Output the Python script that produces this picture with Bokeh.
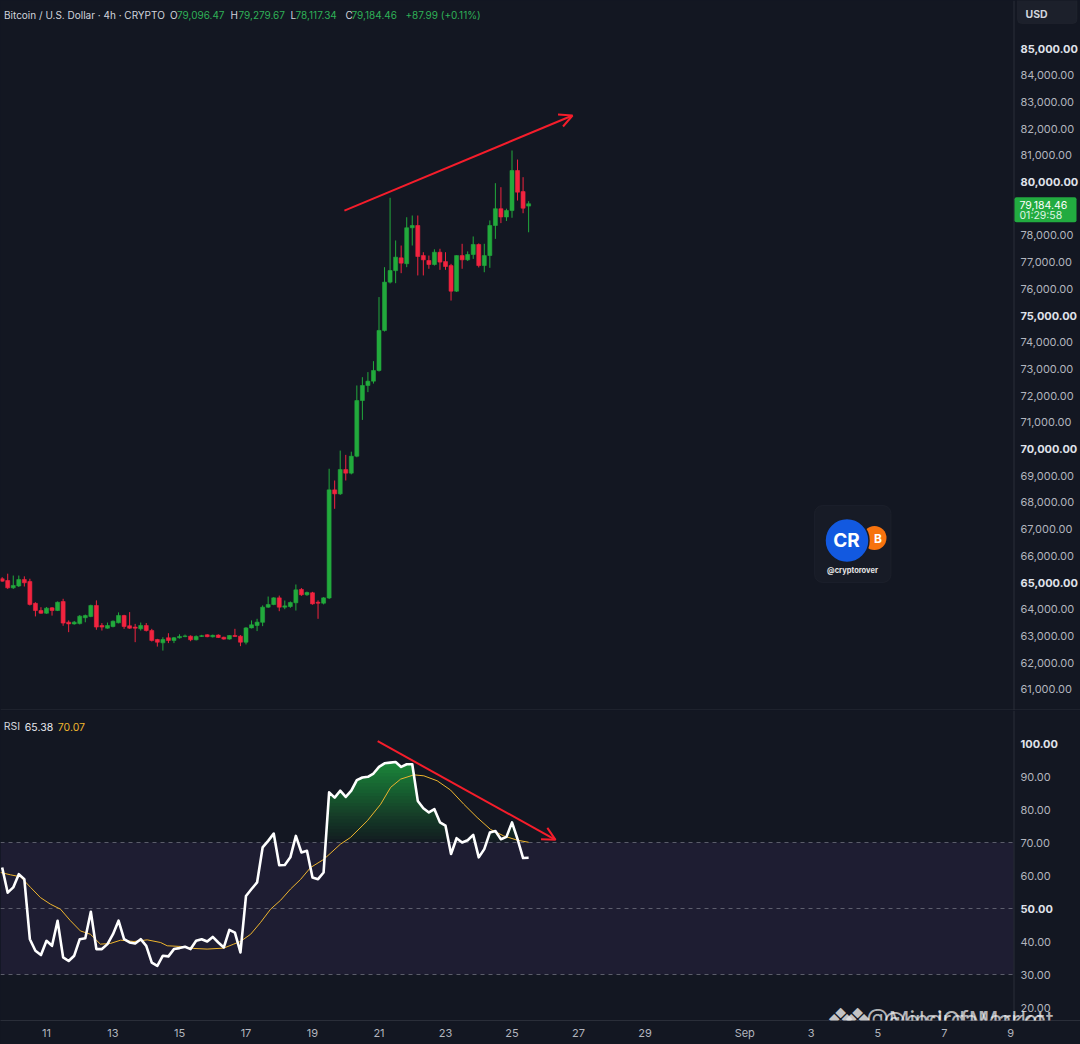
import numpy as np
from bokeh.plotting import figure
from bokeh.layouts import column
from bokeh.models import (ColumnDataSource, Range1d, Span, Label, Arrow, OpenHead,
                          BoxAnnotation, FixedTicker)
from bokeh.core.properties import value
from bokeh.embed import file_html
from bokeh.resources import INLINE

# ---------------- data ----------------
opens = [65140, 65075, 64800, 64870, 65110, 65040, 64220, 63950, 63850, 64050,
         63950, 64290, 63515, 63450, 63460, 63680, 63730, 64140, 63390, 63290,
         63350, 63490, 63765, 63380, 63330, 63265, 63390, 63200, 62865, 62740,
         62930, 62830, 62930, 62975, 62990, 62855, 62980, 63040, 62965, 63030,
         62950, 62880, 63015, 62990, 62765, 63300, 63390, 63510, 64075, 64175,
         64425, 64075, 64100, 64240, 64740, 64540, 64615, 64260, 64225, 64420,
         68470, 68320, 69230, 69095, 69730, 71815, 72380, 72540, 72940, 74440,
         76250, 76680, 77160, 76940, 78285, 78370, 77245, 77060, 76910, 77370,
         77020, 76870, 75910, 77245, 77085, 77285, 77660, 76870, 77245, 78370,
         79000, 78690, 78930, 80430, 79640, 79096.47]
highs = [65200, 65330, 65260, 65260, 65230, 65140, 64260, 64075, 64080, 64080,
         64290, 64390, 63580, 63560, 63780, 63800, 64170, 64330, 63480, 63500,
         63580, 63880, 63790, 63890, 63450, 63500, 63480, 63265, 62890, 62950,
         63100, 62960, 63060, 63050, 63020, 63020, 63040, 63060, 63050, 63060,
         62970, 63030, 63265, 63030, 63330, 63580, 63640, 64140, 64475, 64450,
         64510, 64325, 64290, 64925, 64790, 64660, 64650, 64330, 64450, 69260,
         68820, 69940, 69780, 69900, 72380, 72690, 72880, 73290, 75690, 76810,
         79410, 77810, 77620, 78680, 78745, 78745, 77370, 77245, 77480, 77500,
         77370, 76935, 77250, 77685, 77400, 77960, 77700, 77685, 78560, 79955,
         79805, 79000, 81180, 80840, 80180, 79279.67]
lows = [65030, 64760, 64760, 64830, 64850, 64140, 63730, 63830, 63830, 63760,
        63930, 63380, 63140, 63420, 63430, 63510, 63700, 63230, 63200, 63270,
        63320, 63470, 63265, 63265, 62765, 63200, 63165, 62790, 62600, 62450,
        62730, 62730, 62900, 62950, 62800, 62830, 62960, 62950, 62940, 62920,
        62860, 62860, 62960, 62615, 62680, 63280, 63180, 63365, 64050, 64150,
        63925, 64000, 64050, 63950, 64500, 64500, 64170, 63640, 64180, 64380,
        67760, 68280, 68820, 69050, 69690, 71090, 72130, 72450, 72900, 74400,
        76200, 76210, 76585, 76810, 77620, 76500, 76500, 76750, 76870, 76710,
        76710, 75560, 75880, 76750, 77040, 77120, 76800, 76620, 76785, 77870,
        78460, 78540, 78660, 79305, 78830, 78117.34]
closes = [65050, 64800, 64890, 65110, 64990, 64180, 63950, 63850, 64040, 63950,
          64260, 63480, 63450, 63515, 63740, 63760, 64140, 63330, 63330, 63390,
          63550, 63765, 63350, 63290, 63290, 63390, 63200, 62830, 62765, 62865,
          62830, 62930, 62980, 63000, 62855, 62980, 63010, 62970, 63020, 62940,
          62880, 63015, 62980, 62765, 63300, 63415, 63515, 64075, 64175, 64425,
          64075, 64125, 64250, 64725, 64540, 64625, 64200, 64225, 64425, 68470,
          68320, 69230, 69095, 69730, 71815, 72380, 72540, 72940, 74440, 76250,
          76685, 77185, 76960, 78285, 78370, 77210, 77085, 76910, 77370, 77000,
          76835, 75910, 77245, 77085, 77285, 77660, 76870, 77245, 78370, 79000,
          78690, 78930, 80430, 79620, 79020, 79184.46]
rsi = [62.4, 54.8, 56.4, 60.4, 58.9, 40.7, 37.2, 35.9, 40.2, 38.7,
       46.3, 35.2, 34.1, 35.7, 40.7, 41.0, 49.0, 37.7, 37.7, 39.2,
       42.2, 46.3, 40.7, 39.7, 39.4, 40.7, 38.7, 33.6, 32.6, 35.7,
       35.5, 37.7, 38.0, 38.4, 37.7, 40.2, 40.7, 40.0, 41.4, 39.7,
       38.2, 43.5, 42.7, 36.7, 53.8, 55.9, 57.9, 68.5, 70.5, 72.7,
       63.1, 63.2, 65.5, 72.0, 67.0, 67.5, 59.4, 58.9, 60.9, 85.2,
       83.6, 85.7, 83.8, 85.7, 88.9, 89.7, 89.9, 90.9, 92.9, 94.0,
       94.2, 94.4, 92.9, 93.7, 93.7, 82.6, 80.4, 79.1, 80.1, 76.1,
       75.1, 66.5, 71.3, 70.0, 70.7, 72.3, 65.5, 68.0, 73.0, 73.5,
       71.0, 71.7, 76.1, 71.0, 65.3, 65.38]
rsi_ma_day = [9.62, 9.92, 10.22, 10.52, 10.82, 11.12, 11.42, 11.72, 12.02, 12.32,
              12.62, 12.92, 13.23, 13.63, 14.03, 14.43, 14.63, 15.03, 15.43, 15.83,
              16.33, 16.63, 16.83, 17.14, 17.44, 17.74, 18.04, 18.34, 18.64, 18.94,
              19.34, 19.84, 20.14, 20.65, 21.05, 21.35, 21.65, 22.05, 22.35, 22.75,
              23.15, 23.55, 23.95, 24.35, 24.75, 25.16, 25.50]
rsi_ma = [60.9, 60.2, 59.6, 56.4, 53.3, 51.3, 49.8, 46.3, 43.2, 42.2,
          39.2, 39.4, 40.4, 40.0, 40.5, 39.7, 38.7, 38.5, 37.9, 37.7,
          38.0, 39.2, 40.0, 42.2, 45.8, 49.8, 52.5, 55.9, 58.8, 62.4,
          64.9, 69.5, 71.5, 76.6, 81.6, 86.7, 89.2, 90.5, 90.2, 88.7,
          85.9, 81.6, 77.6, 74.0, 72.0, 70.7, 70.07]
first_bar_day = 9 + 16 / 24          # 9 Aug, 16:00
bar_hours = 4
price_ticks = list(range(61000, 86000, 1000))
rsi_ticks = [20, 30, 40, 50, 60, 70, 80, 90, 100]
rsi_bold = [50, 100]
rsi_levels = [70, 50, 30]
date_ticks = [11, 13, 15, 17, 19, 21, 23, 25, 27, 29, 32, 34, 36, 38, 40]
date_labels = ["11", "13", "15", "17", "19", "21", "23", "25", "27", "29",
               "Sep", "3", "5", "7", "9"]
price_trend = dict(x0=19.96, y0=78930, x1=26.82, y1=82490)
rsi_trend = dict(x0=20.96, y0=100.7, x1=26.31, y1=70.8)
rsi_last, rsi_ma_last = 65.38, 70.07
change_text = "+87.99 (+0.11%)"
countdown = "01:29:58"

# ---------------- styles ----------------
BG = "#131722"
UP = "#22aa3c"
DOWN = "#f2243f"
ARROW = "#f51d2b"
GRID = "#2a2e39"
TXT = "#d1d4dc"
TXT2 = "#b2b5be"
GREEN_TXT = "#2fb157"
YEL = "#eeb52e"
FONT = "Inter"
W, H = 1080, 1044
PRICE_H, RSI_H = 710, 310

# pixel helpers (page px -> data) for placing decorations
def xd(px):
    return 11 + (px - 46) / 33.25

def yp(py):
    return 65000 + (582 - py) * 1000 / 26.7

def py_of(price):
    return 582 - (price - 65000) * 26.7 / 1000

def yr(py):
    return 100 - (py - 743) / 3.3

n = len(closes)
t = first_bar_day + np.arange(n) * bar_hours / 24
o = np.array(opens); h = np.array(highs); l = np.array(lows); c = np.array(closes)
up = c >= o

x_range = Range1d(xd(0), xd(W))

# ================= price panel =================
p = figure(frame_width=W, frame_height=PRICE_H, x_range=x_range,
           y_range=Range1d(yp(PRICE_H), yp(0)), output_backend="svg",
           toolbar_location=None, x_axis_location=None, y_axis_location=None,
           background_fill_color=BG, border_fill_color=BG,
           outline_line_color=None, min_border=0)
p.xgrid.grid_line_color = None
p.ygrid.grid_line_color = None

p.add_layout(Span(location=xd(1013.5), dimension="height", line_color=GRID, line_width=1))
p.add_layout(Span(location=yp(709.5), dimension="width", line_color=GRID, line_width=1))

body_w = 0.12
for mask, col in ((up, UP), (~up, DOWN)):
    src = ColumnDataSource(dict(t=t[mask], o=o[mask], h=h[mask], l=l[mask], c=c[mask]))
    p.segment(x0="t", y0="l", x1="t", y1="h", source=src, line_color=col, line_width=1)
    p.vbar(x="t", width=body_w, top="c", bottom="o", source=src,
           fill_color=col, line_color=col, line_width=0.6)

# right price scale
pt_src = ColumnDataSource(dict(
    y=price_ticks,
    text=[f"{v:,.2f}" for v in price_ticks],
    style=["bold" if v % 5000 == 0 else "normal" for v in price_ticks],
    color=["#e0e3eb" if v % 5000 == 0 else TXT2 for v in price_ticks],
    x=[xd(1020)] * len(price_ticks)))
p.text(x="x", y="y", text="text", source=pt_src, text_font=value(FONT),
       text_font_size="11px", text_font_style="style", text_color="color",
       text_align="left", text_baseline="middle")

# USD box
p.add_layout(BoxAnnotation(left=xd(1017), right=xd(1076.5), top=yp(-5), bottom=yp(23),
                           fill_color="#1c202b", fill_alpha=1, line_color="#2a2e39",
                           line_width=1, border_radius=4))
p.add_layout(Label(x=xd(1025), y=yp(13.5), text="USD", text_color=TXT,
                   text_font=FONT, text_font_size="10.5px", text_font_style="bold",
                   text_align="left", text_baseline="middle"))

# last price tag
cp = py_of(closes[-1])
p.add_layout(BoxAnnotation(left=xd(1014), right=xd(1076), top=yp(cp - 6.6), bottom=yp(cp + 18.4),
                           fill_color="#22ab40", fill_alpha=1, line_color=None, border_radius=2))
p.add_layout(Label(x=xd(1019), y=yp(cp + 0.8), text=f"{closes[-1]:,.2f}", text_color="#ffffff",
                   text_font=FONT, text_font_size="10.5px", text_align="left", text_baseline="middle"))
p.add_layout(Label(x=xd(1019), y=yp(cp + 11.8), text=countdown, text_color="#dff5e4",
                   text_font=FONT, text_font_size="10.5px", text_align="left", text_baseline="middle"))

# trend arrow
p.add_layout(Arrow(end=OpenHead(size=13, line_color=ARROW, line_width=2),
                   x_start=price_trend["x0"], y_start=price_trend["y0"],
                   x_end=price_trend["x1"], y_end=price_trend["y1"],
                   line_color=ARROW, line_width=2))

# header
hy = yp(14)
head = [(3.5, "Bitcoin / U.S. Dollar \u00b7 4h \u00b7 CRYPTO", TXT),
        (169.5, "O", TXT), (176.5, f"{opens[-1]:,.2f}", GREEN_TXT),
        (230, "H", TXT), (238, f"{highs[-1]:,.2f}", GREEN_TXT),
        (290, "L", TXT), (295, f"{lows[-1]:,.2f}", GREEN_TXT),
        (345, "C", TXT), (351, f"{closes[-1]:,.2f}", GREEN_TXT),
        (405, change_text, GREEN_TXT)]
for px, txt, col in head:
    p.add_layout(Label(x=xd(px), y=hy, text=txt, text_color=col, text_font=FONT,
                       text_font_size="10px", text_align="left", text_baseline="middle"))

# logo badge
p.add_layout(BoxAnnotation(left=xd(814), right=xd(890.5), top=yp(505), bottom=yp(582),
                           fill_color="#171b26", fill_alpha=1, line_color="#2a2e39",
                           line_width=1, border_radius=8, level="underlay"))
p.scatter(x=[xd(874)], y=[yp(537.5)], size=24, marker="circle",
          fill_color="#f7730e", line_color=None)
p.scatter(x=[xd(846.5)], y=[yp(540)], size=44, marker="circle",
          fill_color="#1259e0", line_color="#171b26", line_width=1.5)
p.add_layout(Label(x=xd(846), y=yp(540), text="CR", text_color="#ffffff", text_font=FONT,
                   text_font_size="19px", text_font_style="bold", text_align="center",
                   text_baseline="middle"))
p.add_layout(Label(x=xd(877.5), y=yp(538), text="B", text_color="#ffffff", text_font=FONT,
                   text_font_size="12px", text_font_style="bold", text_align="center",
                   text_baseline="middle"))
p.add_layout(Label(x=xd(852), y=yp(569.5), text="@cryptorover", text_color="#e6e6e6",
                   text_font=FONT, text_font_size="7.5px", text_font_style="bold",
                   text_align="center", text_baseline="middle"))

# ================= RSI panel =================
r = figure(frame_width=W, frame_height=RSI_H, x_range=x_range,
           y_range=Range1d(yr(PRICE_H + RSI_H), yr(PRICE_H)), output_backend="svg",
           toolbar_location=None, x_axis_location="below", y_axis_location=None,
           background_fill_color=BG, border_fill_color=BG,
           outline_line_color=None, min_border=0,
           min_border_bottom=H - PRICE_H - RSI_H)
r.xgrid.grid_line_color = None
r.ygrid.grid_line_color = None

r.add_layout(BoxAnnotation(bottom=30, top=70, left=xd(0), right=xd(1013), fill_color="#7e57c2",
                           fill_alpha=0.1, line_color=None, level="underlay"))
r.add_layout(Span(location=xd(1013.5), dimension="height", line_color=GRID, line_width=1))

# overbought gradient fill: stacked layers, densified geometry for the fill only
rsi_a = np.array(rsi)
tf = np.linspace(t[0], t[-1], (n - 1) * 12 + 1)
rf = np.interp(tf, t, rsi_a)
N = 25
A0 = 0.85
prev = 0.0
for k in range(N):
    target = A0 * (k + 1) / N
    a = 1 - (1 - target) / (1 - prev)
    prev = target
    lvl = 70 + k
    r.varea(x=tf, y1=lvl, y2=np.maximum(rf, lvl), fill_color="#23a346", fill_alpha=a)

lv = ColumnDataSource(dict(x0=[xd(0)] * len(rsi_levels), x1=[xd(1013)] * len(rsi_levels),
                           y=rsi_levels))
r.segment(x0="x0", x1="x1", y0="y", y1="y", source=lv, line_color="#787b86",
          line_alpha=0.7, line_width=1, line_dash="4 4")

r.line(rsi_ma_day, rsi_ma, line_color=YEL, line_width=1)
r.line(t, rsi_a, line_color="#ffffff", line_width=2.6, line_join="round")

r.add_layout(Arrow(end=OpenHead(size=13, line_color=ARROW, line_width=2),
                   x_start=rsi_trend["x0"], y_start=rsi_trend["y0"],
                   x_end=rsi_trend["x1"], y_end=rsi_trend["y1"],
                   line_color=ARROW, line_width=2))

rt_src = ColumnDataSource(dict(
    y=rsi_ticks, text=[f"{v:.2f}" for v in rsi_ticks],
    style=["bold" if v in rsi_bold else "normal" for v in rsi_ticks],
    color=["#e0e3eb" if v in rsi_bold else TXT2 for v in rsi_ticks],
    x=[xd(1020)] * len(rsi_ticks)))
r.text(x="x", y="y", text="text", source=rt_src, text_font=value(FONT),
       text_font_size="11px", text_font_style="style", text_color="color",
       text_align="left", text_baseline="middle")

ry = yr(726)
for px, txt, col in [(3.3, "RSI", TXT), (24.3, f"{rsi_last:.2f}", "#e8eaef"),
                     (57.3, f"{rsi_ma_last:.2f}", YEL)]:
    r.add_layout(Label(x=xd(px), y=ry, text=txt, text_color=col, text_font=FONT,
                       text_font_size="10.5px", text_align="left", text_baseline="middle"))

# watermark (two overlapping stamps)
for px, txt in [(840, "\u2756"), (857, "\u2756")]:
    r.add_layout(Label(x=xd(px), y=yr(1019), text=txt, text_color="#e4e4e4", text_alpha=0.85,
                       text_font="DejaVu Sans", text_font_size="32px", text_align="center",
                       text_baseline="middle"))
for px, txt in [(866, "@MindOfMarket"), (883, "@elsirdaMarket")]:
    r.add_layout(Label(x=xd(px), y=yr(1019), text=txt, text_color="#f0f0f0", text_alpha=0.72,
                       text_font=FONT, text_font_size="23px", text_align="left",
                       text_baseline="middle"))

ax = r.xaxis[0]
ax.ticker = FixedTicker(ticks=date_ticks)
ax.major_label_overrides = {k: v for k, v in zip(date_ticks, date_labels)}
ax.axis_line_color = GRID
ax.major_tick_line_color = None
ax.minor_tick_line_color = None
ax.major_tick_out = 0
ax.major_tick_in = 0
ax.major_label_standoff = 5
ax.major_label_text_color = TXT2
ax.major_label_text_font = FONT
ax.major_label_text_font_size = "11px"

layout = column(p, r, spacing=0)
html = file_html(layout, INLINE, title="BTCUSD 4h")
html = html.replace("<head>", "<head><style>html,body{background:#131722;}</style>", 1)
open("out.html", "w").write(html)
